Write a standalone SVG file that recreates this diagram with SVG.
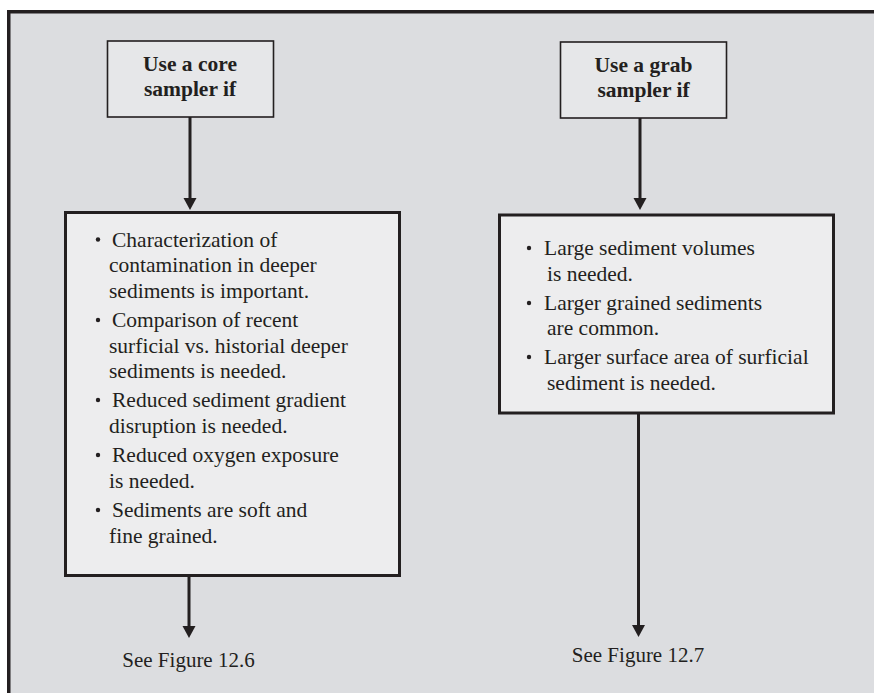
<svg xmlns="http://www.w3.org/2000/svg" width="874" height="693" viewBox="0 0 874 693">
  <style>
    .frame { fill: #dcdde0; }
    .edge { stroke: #231f20; stroke-width: 3.5; fill: none; }
    .head { fill: #e6e7e9; stroke: #231f20; stroke-width: 1.6; }
    .list { fill: #ededee; stroke: #231f20; stroke-width: 3; }
    .link { stroke: #231f20; stroke-width: 3; fill: none; marker-end: url(#tip); }
    .title { font-family: "Liberation Serif", "Times New Roman", serif; font-size: 21.5px; font-weight: bold; fill: #231f20; text-anchor: middle; }
    .body { font-family: "Liberation Serif", "Times New Roman", serif; font-size: 21.5px; fill: #231f20; }
    .ref { font-family: "Liberation Serif", "Times New Roman", serif; font-size: 21px; fill: #231f20; text-anchor: middle; }
    .dot { fill: #231f20; }
  </style>
  <defs>
    <marker id="tip" markerUnits="userSpaceOnUse" markerWidth="13" markerHeight="14" refX="6" refY="6.5" orient="auto">
      <path d="M0,0 L12,6.5 L0,13 z" fill="#231f20"/>
    </marker>
  </defs>

  <!-- panel background with top and left rules -->
  <rect class="frame" x="8" y="11" width="866" height="682"/>
  <path class="edge" d="M8.75,693 V11.75 H874"/>

  <!-- connectors -->
  <g id="connectors">
    <line class="link" x1="190" y1="117" x2="190" y2="204"/>
    <line class="link" x1="189" y1="576" x2="189" y2="632"/>
    <line class="link" x1="640" y1="118" x2="640" y2="204"/>
    <line class="link" x1="638.5" y1="414" x2="638.5" y2="631"/>
  </g>

  <!-- core sampler header -->
  <g id="core-header">
    <rect class="head" x="107.5" y="41" width="166" height="76"/>
    <text class="title" x="190" y="71">Use a core</text>
    <text class="title" x="190" y="96">sampler if</text>
  </g>

  <!-- core sampler conditions -->
  <g id="core-conditions">
    <rect class="list" x="65.5" y="212.5" width="334" height="363"/>
    <circle class="dot" cx="98" cy="239.5" r="2.2"/>
    <text class="body" x="112" y="246.5">Characterization of</text>
    <text class="body" x="109" y="272">contamination in deeper</text>
    <text class="body" x="109" y="297.5">sediments is important.</text>
    <circle class="dot" cx="98" cy="320" r="2.2"/>
    <text class="body" x="112" y="327">Comparison of recent</text>
    <text class="body" x="109" y="352.5">surficial vs. historial deeper</text>
    <text class="body" x="109" y="378">sediments is needed.</text>
    <circle class="dot" cx="98" cy="400" r="2.2"/>
    <text class="body" x="112" y="407">Reduced sediment gradient</text>
    <text class="body" x="109" y="432.5">disruption is needed.</text>
    <circle class="dot" cx="98" cy="455" r="2.2"/>
    <text class="body" x="112" y="462">Reduced oxygen exposure</text>
    <text class="body" x="109" y="487.5">is needed.</text>
    <circle class="dot" cx="98" cy="510" r="2.2"/>
    <text class="body" x="112" y="517">Sediments are soft and</text>
    <text class="body" x="109" y="542.5">fine grained.</text>
  </g>

  <!-- grab sampler header -->
  <g id="grab-header">
    <rect class="head" x="560.5" y="42" width="166" height="76"/>
    <text class="title" x="643.5" y="72">Use a grab</text>
    <text class="title" x="643.5" y="97">sampler if</text>
  </g>

  <!-- grab sampler conditions -->
  <g id="grab-conditions">
    <rect class="list" x="499.5" y="215" width="334" height="198"/>
    <circle class="dot" cx="529" cy="248" r="2.2"/>
    <text class="body" x="544" y="255">Large sediment volumes</text>
    <text class="body" x="547" y="281">is needed.</text>
    <circle class="dot" cx="529" cy="303" r="2.2"/>
    <text class="body" x="544" y="310">Larger grained sediments</text>
    <text class="body" x="547" y="335">are common.</text>
    <circle class="dot" cx="529" cy="357" r="2.2"/>
    <text class="body" x="544" y="364">Larger surface area of surficial</text>
    <text class="body" x="547" y="390">sediment is needed.</text>
  </g>

  <!-- onward references -->
  <g id="see-12-6">
    <text class="ref" x="188.5" y="667">See Figure 12.6</text>
  </g>
  <g id="see-12-7">
    <text class="ref" x="638" y="662">See Figure 12.7</text>
  </g>
</svg>
